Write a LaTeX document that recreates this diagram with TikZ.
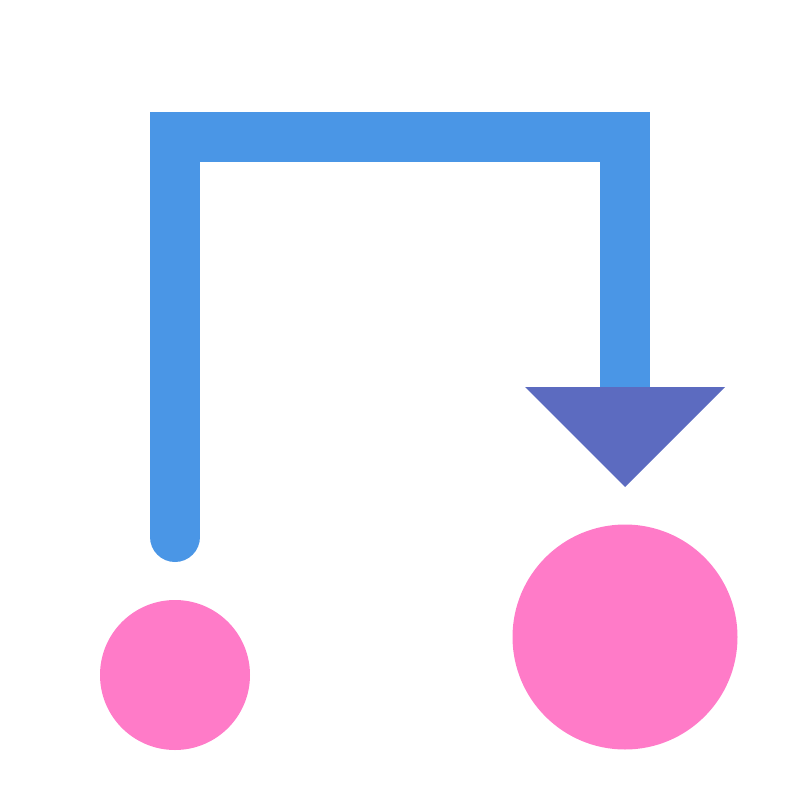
\documentclass[tikz,border=0pt]{standalone}
\definecolor{lineblue}{RGB}{74,150,230}
\definecolor{tri}{RGB}{92,107,192}
\definecolor{pinkc}{RGB}{255,123,200}
\begin{document}
\begin{tikzpicture}[x=1pt,y=-1pt]
\useasboundingbox (0,0) rectangle (800,800);
\draw[lineblue,line width=50pt,line cap=round,line join=miter] (175,537) -- (175,137) -- (625,137) -- (625,390);
\fill[tri] (525,387) -- (725,387) -- (625,487) -- cycle;
\fill[pinkc] (175,675) circle[radius=75];
\fill[pinkc] (625,637) circle[radius=112.5];
\end{tikzpicture}
\end{document}
